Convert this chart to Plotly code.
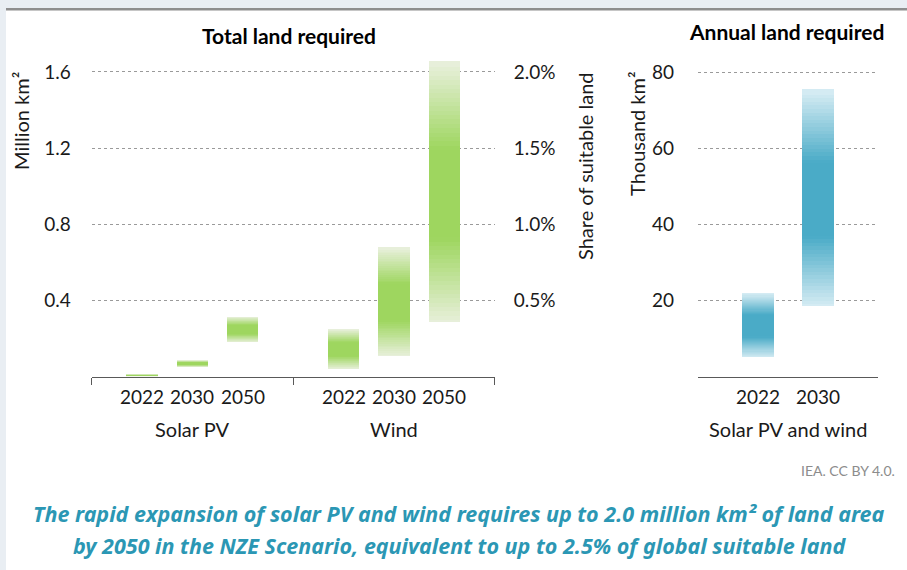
import plotly.graph_objects as go

# ---------------- data ----------------
years = ["2022", "2030", "2050"]
techs = ["Solar PV", "Wind"]
solar_low = [0.0, 0.05, 0.18]        # million km2
solar_high = [0.012, 0.085, 0.315]
wind_low = [0.04, 0.11, 0.285]
wind_high = [0.25, 0.68, 1.66]

annual_years = ["2022", "2030"]
annual_group = "Solar PV and wind"
annual_low = [5, 18.5]               # thousand km2
annual_high = [22, 75.5]

left_ticks = [0.4, 0.8, 1.2, 1.6]
share_ticks = [0.5, 1.0, 1.5, 2.0]   # % of suitable land
right_ticks = [20, 40, 60, 80]
share_per_million = 1.25             # 0.4 million km2 = 0.5 %

caption_lines = [
    "The rapid expansion of solar PV and wind requires up to 2.0 million km² of land area",
    "by 2050 in the NZE Scenario, equivalent to up to 2.5% of global suitable land",
]

# ---------------- styling ----------------
W, H = 907, 570
FONT = "Lato"
GREEN_FULL = (158, 214, 95)
GREEN_PALE = (233, 240, 221)
BLUE_FULL = (74, 171, 199)
BLUE_PALE = (216, 237, 244)
N_SLICES = 60


def px_x(p):
    return p / W


def px_y(p):
    return 1 - p / H


def grad(t, pale, full):
    # pale at both ends, full colour in the middle third
    if t < 0.33:
        f = t / 0.33
    elif t > 0.67:
        f = (1 - t) / 0.33
    else:
        f = 1.0
    c = [round(pale[k] + (full[k] - pale[k]) * f) for k in range(3)]
    return "rgb(%d,%d,%d)" % tuple(c)


fig = go.Figure()

# left panel positions: groups of 3 with a gap slot
lows = solar_low + wind_low
highs = solar_high + wind_high
xpos = [g * 4 + i + 1 for g in range(len(techs)) for i in range(len(years))]

for s in range(N_SLICES):
    t = (s + 0.5) / N_SLICES
    bases, heights = [], []
    for lo, hi in zip(lows, highs):
        step = (hi - lo) / N_SLICES
        b = lo + s * step
        h = step
        if s > 0:
            b -= step * 0.5
            h += step * 0.5
        bases.append(b)
        heights.append(h)
    fig.add_trace(go.Bar(x=xpos, y=heights, base=bases, width=0.62,
                         marker=dict(color=grad(t, GREEN_PALE, GREEN_FULL), line=dict(width=0)),
                         xaxis="x", yaxis="y", showlegend=False, hoverinfo="skip"))

# right panel
xpos2 = [i + 1 for i in range(len(annual_years))]
for s in range(N_SLICES):
    t = (s + 0.5) / N_SLICES
    bases, heights = [], []
    for lo, hi in zip(annual_low, annual_high):
        step = (hi - lo) / N_SLICES
        b = lo + s * step
        h = step
        if s > 0:
            b -= step * 0.5
            h += step * 0.5
        bases.append(b)
        heights.append(h)
    fig.add_trace(go.Bar(x=xpos2, y=heights, base=bases, width=0.52,
                         marker=dict(color=grad(t, BLUE_PALE, BLUE_FULL), line=dict(width=0)),
                         xaxis="x2", yaxis="y3", showlegend=False, hoverinfo="skip"))

# invisible trace to activate secondary axis
fig.add_trace(go.Scatter(x=[0], y=[0], mode="markers", marker=dict(opacity=0),
                         xaxis="x", yaxis="y2", showlegend=False, hoverinfo="skip"))

y_dom = [px_y(376.5), px_y(53.5)]
left_max = 1.697
right_max = 84.86

tickfont = dict(family=FONT, size=19, color="#1a1a1a")
groupfont = dict(family=FONT, size=20, color="#1a1a1a")

fig.update_layout(
    width=W, height=H,
    margin=dict(l=0, r=0, t=0, b=0),
    paper_bgcolor="white", plot_bgcolor="rgba(0,0,0,0)",
    barmode="overlay", bargap=0, showlegend=False,
    font=dict(family=FONT, size=19, color="#1a1a1a"),
    xaxis=dict(domain=[px_x(91.7), px_x(494.7)], range=[0, 8], anchor="y",
               showline=True, linecolor="#595959", linewidth=1,
               ticks="outside", ticklen=7, tickcolor="#595959", tickwidth=1,
               tickvals=[0, 4, 8], showticklabels=False, showgrid=False, zeroline=False),
    yaxis=dict(domain=y_dom, range=[0, left_max], anchor="x",
               tickvals=left_ticks, ticktext=["%.1f" % v for v in left_ticks],
               tickfont=tickfont, showgrid=True, griddash="dot", gridcolor="#9a9a9a", gridwidth=1,
               showline=False, zeroline=False, ticks="", ticklabelstandoff=20),
    yaxis2=dict(domain=y_dom, range=[0, left_max * share_per_million], overlaying="y", side="right",
                anchor="x", tickvals=share_ticks, ticktext=["%.1f%%" % v for v in share_ticks],
                tickfont=tickfont, showgrid=False, showline=False, zeroline=False, ticks="",
                ticklabelstandoff=18),
    xaxis2=dict(domain=[px_x(698), px_x(878)], range=[0, 3], anchor="y3",
                showline=True, linecolor="#595959", linewidth=1, ticks="",
                showticklabels=False, showgrid=False, zeroline=False),
    yaxis3=dict(domain=y_dom, range=[0, right_max], anchor="x2",
                tickvals=right_ticks, ticktext=[str(v) for v in right_ticks],
                tickfont=tickfont, showgrid=True, griddash="dot", gridcolor="#9a9a9a", gridwidth=1,
                showline=False, zeroline=False, ticks="", ticklabelstandoff=23),
)

ann = []
# year labels, left
for x, i in zip(xpos, [i for g in range(len(techs)) for i in range(len(years))]):
    ann.append(dict(x=x, y=px_y(396), xref="x", yref="paper", text=years[i], showarrow=False,
                    font=tickfont, xanchor="center", yanchor="middle"))
for g, name in enumerate(techs):
    ann.append(dict(x=g * 4 + 2, y=px_y(429), xref="x", yref="paper", text=name, showarrow=False,
                    font=groupfont, xanchor="center", yanchor="middle"))
for x, yr in zip(xpos2, annual_years):
    ann.append(dict(x=x, y=px_y(397), xref="x2", yref="paper", text=yr, showarrow=False,
                    font=tickfont, xanchor="center", yanchor="middle"))
ann.append(dict(x=1.5, y=px_y(429), xref="x2", yref="paper", text=annual_group, showarrow=False,
                font=groupfont, xanchor="center", yanchor="middle"))

# titles
ann.append(dict(x=px_x(289), y=px_y(36), xref="paper", yref="paper", text="<b>Total land required</b>",
                showarrow=False, font=dict(family=FONT, size=21, color="#000"),
                xanchor="center", yanchor="middle"))
ann.append(dict(x=px_x(786), y=px_y(32), xref="paper", yref="paper", text="<b>Annual land required</b>",
                showarrow=False, font=dict(family=FONT, size=21, color="#000"),
                xanchor="center", yanchor="middle"))
# axis titles
ann.append(dict(x=px_x(21), y=px_y(121), xref="paper", yref="paper", text="Million km²",
                textangle=-90, showarrow=False, font=dict(family=FONT, size=20, color="#1a1a1a"),
                xanchor="center", yanchor="middle"))
ann.append(dict(x=px_x(585), y=px_y(166), xref="paper", yref="paper", text="Share of suitable land",
                textangle=-90, showarrow=False, font=dict(family=FONT, size=20, color="#1a1a1a"),
                xanchor="center", yanchor="middle"))
ann.append(dict(x=px_x(637), y=px_y(134), xref="paper", yref="paper", text="Thousand km²",
                textangle=-90, showarrow=False, font=dict(family=FONT, size=20, color="#1a1a1a"),
                xanchor="center", yanchor="middle"))
# source
ann.append(dict(x=px_x(897), y=px_y(470), xref="paper", yref="paper", text="IEA. CC BY 4.0.",
                showarrow=False, font=dict(family=FONT, size=14, color="#8c8c8c"),
                xanchor="right", yanchor="middle"))
# caption
for line, yc in zip(caption_lines, [513, 545]):
    ann.append(dict(x=px_x(459), y=px_y(yc), xref="paper", yref="paper",
                    text="<b><i>%s</i></b>" % line,
                    showarrow=False, font=dict(family="Noto Sans", size=21.5, color="#2b97b4"),
                    xanchor="center", yanchor="middle", align="center"))
fig.update_layout(annotations=ann)

# frame background
fig.update_layout(shapes=[
    dict(type="rect", xref="paper", yref="paper", x0=0, x1=px_x(6), y0=0, y1=1,
         fillcolor="#e9eef3", line=dict(width=0), layer="below"),
    dict(type="rect", xref="paper", yref="paper", x0=0, x1=1, y0=px_y(8), y1=1,
         fillcolor="#e9eef3", line=dict(width=0), layer="below"),
    dict(type="rect", xref="paper", yref="paper", x0=px_x(6), x1=1, y0=px_y(10.5), y1=px_y(8),
         fillcolor="#8e8e8e", line=dict(width=0), layer="below"),
])

fig.write_html("out.html", config=dict(displayModeBar=False, staticPlot=True),
               post_script="document.body.style.margin='0';document.body.style.overflow='hidden';")
